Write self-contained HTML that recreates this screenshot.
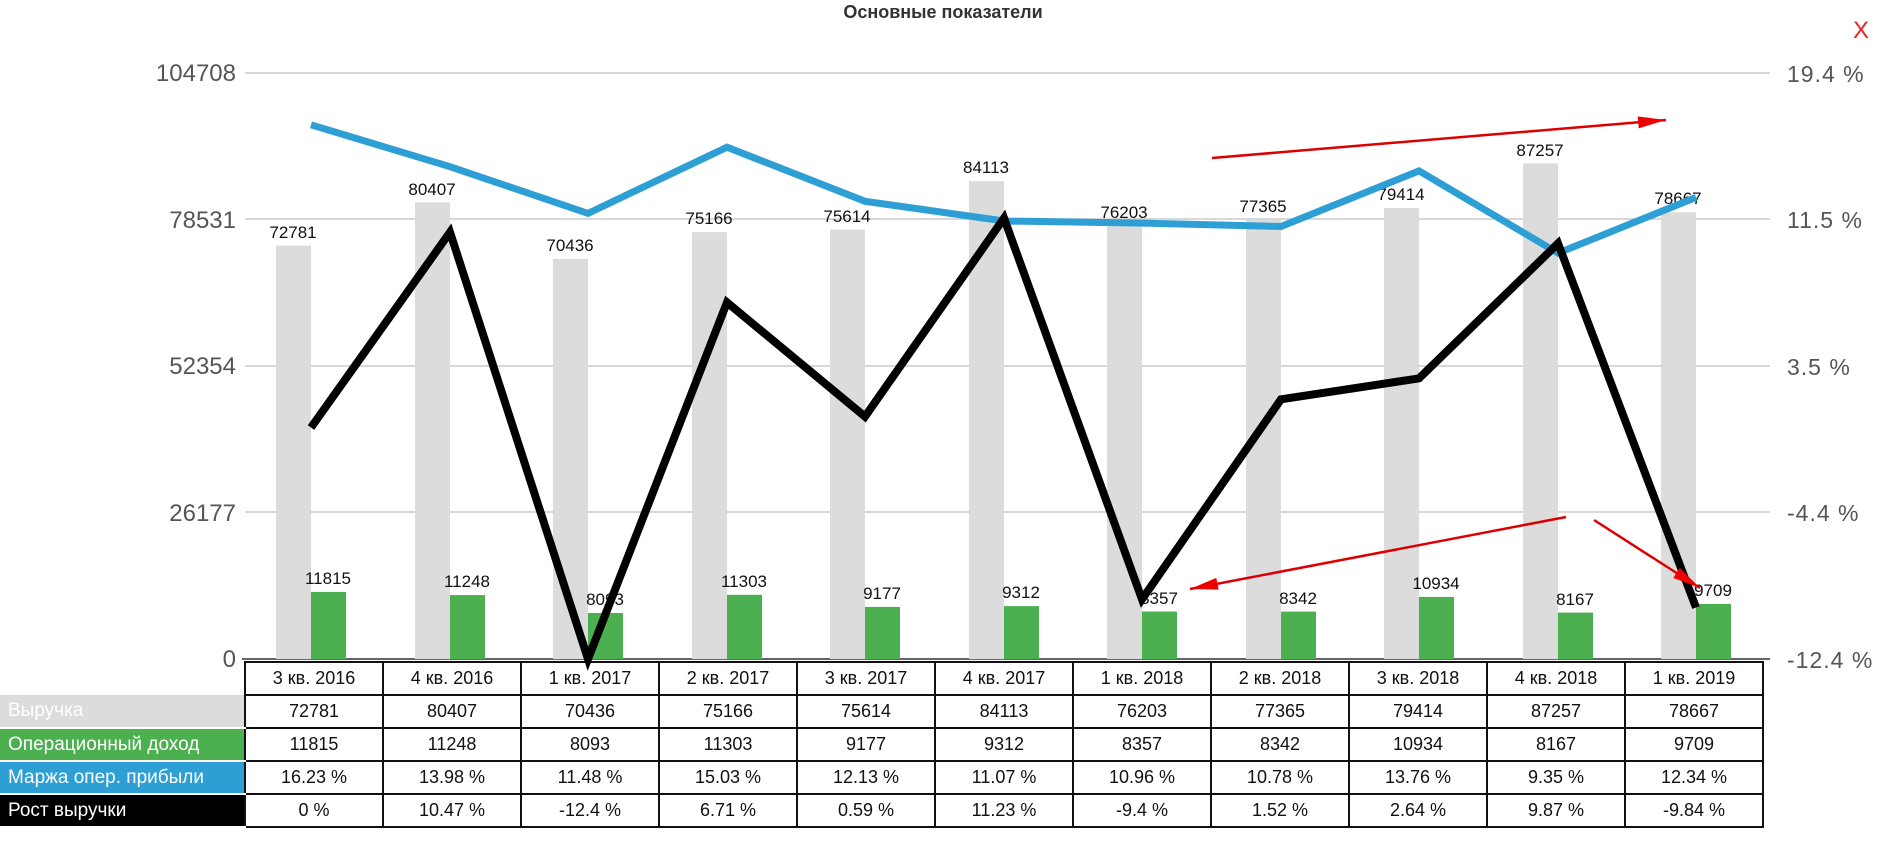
<!DOCTYPE html>
<html><head><meta charset="utf-8"><style>
html,body{margin:0;padding:0;background:#fff;}
body{width:1878px;height:865px;overflow:hidden;position:relative;font-family:"Liberation Sans",sans-serif;}
svg{position:absolute;left:0;top:0;z-index:2;pointer-events:none;}
table{position:absolute;left:0;top:661px;border-collapse:collapse;font-size:18px;z-index:1;}
td{height:31px;border:2px solid #111;text-align:center;padding:0;width:136px;color:#111;}
td.l{width:236px;text-align:left;padding-left:8px;color:#fff;border:none;border-bottom:2px solid #fff;font-size:19px;}
tr.h td.e{border:none;}
</style></head><body>
<svg width="1878" height="865" viewBox="0 0 1878 865">
<text x="943" y="18" font-size="18" font-weight="bold" text-anchor="middle" fill="#333">Основные показатели</text>
<text x="1861" y="38" font-size="24" fill="#e22" text-anchor="middle">X</text>
<g stroke="#ccc" stroke-width="1.5">
<line x1="245" y1="73" x2="1770" y2="73"/><line x1="245" y1="219" x2="1770" y2="219"/>
<line x1="245" y1="366" x2="1770" y2="366"/><line x1="245" y1="512" x2="1770" y2="512"/>
</g>
<line x1="242" y1="659" x2="1770" y2="659" stroke="#666" stroke-width="2"/>
<g font-size="24" fill="#555" text-anchor="end">
<text x="236" y="81">104708</text><text x="236" y="228">78531</text><text x="236" y="374">52354</text><text x="236" y="521">26177</text><text x="236" y="667">0</text>
</g>
<g font-size="23" fill="#555" letter-spacing="1">
<text x="1787" y="82">19.4 %</text><text x="1787" y="228">11.5 %</text><text x="1787" y="375">3.5 %</text><text x="1787" y="521">-4.4 %</text><text x="1787" y="668">-12.4 %</text>
</g>
<g fill="#dcdcdc">
<rect x="276" y="245.6" width="35" height="413.4"/><rect x="415" y="202.3" width="35" height="456.7"/><rect x="553" y="258.9" width="35" height="400.1"/><rect x="692" y="232.1" width="35" height="426.9"/><rect x="830" y="229.5" width="35" height="429.5"/><rect x="969" y="181.2" width="35" height="477.8"/><rect x="1107" y="226.2" width="35" height="432.8"/><rect x="1246" y="219.6" width="35" height="439.4"/><rect x="1384" y="207.9" width="35" height="451.1"/><rect x="1523" y="163.4" width="35" height="495.6"/><rect x="1661" y="212.2" width="35" height="446.8"/>
</g>
<g fill="#4caf50">
<rect x="311" y="591.9" width="35" height="67.1"/><rect x="450" y="595.1" width="35" height="63.9"/><rect x="588" y="613" width="35" height="46"/><rect x="727" y="594.8" width="35" height="64.2"/><rect x="865" y="606.9" width="35" height="52.1"/><rect x="1004" y="606.1" width="35" height="52.9"/><rect x="1142" y="611.5" width="35" height="47.5"/><rect x="1281" y="611.6" width="35" height="47.4"/><rect x="1419" y="596.9" width="35" height="62.1"/><rect x="1558" y="612.6" width="35" height="46.4"/><rect x="1696" y="603.9" width="35" height="55.1"/>
</g>
<g font-size="17" fill="#111" text-anchor="middle">
<text x="293" y="238">72781</text><text x="432" y="195">80407</text><text x="570" y="251">70436</text><text x="709" y="224">75166</text><text x="847" y="222">75614</text><text x="986" y="173">84113</text><text x="1124" y="218">76203</text><text x="1263" y="212">77365</text><text x="1401" y="200">79414</text><text x="1540" y="156">87257</text><text x="1678" y="204">78667</text>
<text x="328" y="584">11815</text><text x="467" y="587">11248</text><text x="605" y="605">8093</text><text x="744" y="587">11303</text><text x="882" y="599">9177</text><text x="1021" y="598">9312</text><text x="1159" y="604">8357</text><text x="1298" y="604">8342</text><text x="1436" y="589">10934</text><text x="1575" y="605">8167</text><text x="1713" y="596">9709</text>
</g>
<polyline fill="none" stroke="#2e9fd4" stroke-width="7" stroke-linejoin="miter" points="311,124.8 450,166.7 588,213.4 727,147.2 865,201.3 1004,221 1142,223.1 1281,226.5 1419,170.9 1558,253.1 1696,197.4"/>
<polyline fill="none" stroke="#000" stroke-width="8" stroke-linejoin="miter" points="311,427.6 450,232.2 588,659 727,302.4 865,416.6 1004,218.1 1142,599.3 1281,399.3 1419,378.4 1558,243.4 1696,607.5"/>
<defs><marker id="b" markerWidth="28" markerHeight="12" refX="28" refY="6" orient="auto" markerUnits="userSpaceOnUse"><path d="M0,0 L28,6 L0,12 Z" fill="#e00"/></marker></defs>
<g stroke="#d00" stroke-width="2.5" fill="none">
<line x1="1212" y1="158" x2="1666" y2="120" marker-end="url(#b)"/>
<line x1="1566" y1="517" x2="1190" y2="589" marker-end="url(#b)"/>
<line x1="1594" y1="520" x2="1700" y2="588" marker-end="url(#b)"/>
</g>
</svg>
<table>
<tr class="h"><td class="l e" style="background:#fff"></td><td>3 кв. 2016</td><td>4 кв. 2016</td><td>1 кв. 2017</td><td>2 кв. 2017</td><td>3 кв. 2017</td><td>4 кв. 2017</td><td>1 кв. 2018</td><td>2 кв. 2018</td><td>3 кв. 2018</td><td>4 кв. 2018</td><td>1 кв. 2019</td></tr>
<tr><td class="l" style="background:#dcdcdc">Выручка</td><td>72781</td><td>80407</td><td>70436</td><td>75166</td><td>75614</td><td>84113</td><td>76203</td><td>77365</td><td>79414</td><td>87257</td><td>78667</td></tr>
<tr><td class="l" style="background:#4caf50">Операционный доход</td><td>11815</td><td>11248</td><td>8093</td><td>11303</td><td>9177</td><td>9312</td><td>8357</td><td>8342</td><td>10934</td><td>8167</td><td>9709</td></tr>
<tr><td class="l" style="background:#2e9fd4">Маржа опер. прибыли</td><td>16.23 %</td><td>13.98 %</td><td>11.48 %</td><td>15.03 %</td><td>12.13 %</td><td>11.07 %</td><td>10.96 %</td><td>10.78 %</td><td>13.76 %</td><td>9.35 %</td><td>12.34 %</td></tr>
<tr><td class="l" style="background:#000">Рост выручки</td><td>0 %</td><td>10.47 %</td><td>-12.4 %</td><td>6.71 %</td><td>0.59 %</td><td>11.23 %</td><td>-9.4 %</td><td>1.52 %</td><td>2.64 %</td><td>9.87 %</td><td>-9.84 %</td></tr>
</table>
</body></html>
